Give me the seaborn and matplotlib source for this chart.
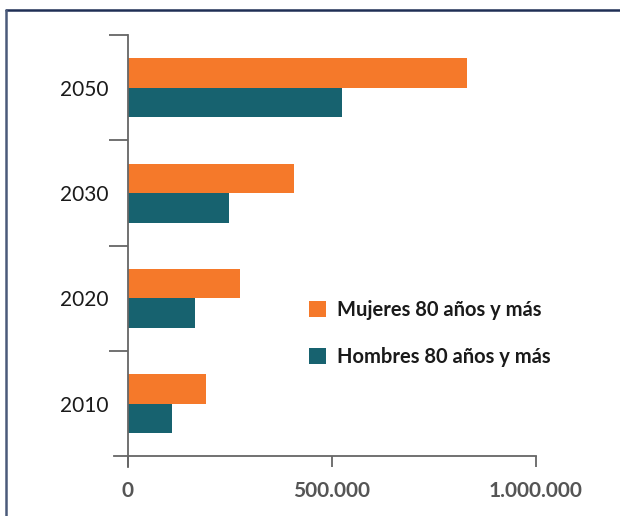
import matplotlib
matplotlib.use("Agg")
import matplotlib.pyplot as plt
from matplotlib.lines import Line2D
from matplotlib.ticker import FuncFormatter, FixedLocator
import pandas as pd
import seaborn as sns

years = ["2050", "2030", "2020", "2010"]
mujeres = [832000, 407000, 274000, 191000]
hombres = [524000, 247000, 164000, 108000]
series_names = ["Mujeres 80 años y más", "Hombres 80 años y más"]
colors = ["#F5792A", "#17626F"]

df = pd.DataFrame({
    "year": years * 2,
    "value": mujeres + hombres,
    "serie": [series_names[0]] * len(years) + [series_names[1]] * len(years),
})

sns.set_style("white")
plt.rcParams["font.family"] = ["Lato", "DejaVu Sans"]

fig = plt.figure(figsize=(6.2, 5.16), dpi=100)
ax = fig.add_axes([114 / 620, 1 - 467 / 516, (536 - 114) / 620, (467 - 35) / 516])

sns.barplot(
    data=df, y="year", x="value", hue="serie", order=years,
    palette=colors, width=0.56, saturation=1, linewidth=0, ax=ax, legend=True,
)

ax.set_xlim(-34000, 1000000)
ax.set_ylim(3.6, -0.5)

for s in ["top", "right"]:
    ax.spines[s].set_visible(False)
ax.spines["left"].set_position(("data", 0))
ax.spines["bottom"].set_position(("data", 3.5))
for s in ["left", "bottom"]:
    ax.spines[s].set_color("#666666")
    ax.spines[s].set_linewidth(1.3)

# category boundaries as ticks, labels on centers
ax.yaxis.set_major_locator(FixedLocator([-0.5, 0.5, 1.5, 2.5]))
ax.set_yticklabels([])
ax.set_yticks(range(len(years)), labels=years, minor=True)
ax.tick_params(axis="y", which="major", length=14, width=1.3, color="#666666", left=True)
ax.tick_params(axis="y", which="minor", length=0, pad=14, labelsize=15, labelcolor="#1a1a1a")

ax.set_xticks([0, 500000, 1000000])
ax.xaxis.set_major_formatter(FuncFormatter(lambda v, p: f"{int(v):,}".replace(",", ".")))
ax.tick_params(axis="x", length=8, width=1.3, color="#666666", bottom=True,
               labelsize=15, labelcolor="#555555", pad=10)
for t in ax.get_xticklabels():
    t.set_fontweight("bold")

ax.set_xlabel("")
ax.set_ylabel("")

leg = ax.legend(
    loc="upper left", bbox_to_anchor=(291 / 620, 1 - 282 / 516),
    bbox_transform=fig.transFigure, frameon=False,
    handlelength=0.85, handleheight=0.85, handletextpad=0.55,
    labelspacing=1.35, prop={"size": 14.5, "weight": "bold"},
)
for t in leg.get_texts():
    t.set_color("#1a1a1a")

# frame around figure
fig.add_artist(Line2D([6 / 620, 1], [1 - 10 / 516] * 2, transform=fig.transFigure,
                      color="#1F2F55", linewidth=1.8))
fig.add_artist(Line2D([6 / 620] * 2, [0, 1 - 10 / 516], transform=fig.transFigure,
                      color="#4A5A7A", linewidth=1.8))

fig.savefig("out.png", dpi=100)
